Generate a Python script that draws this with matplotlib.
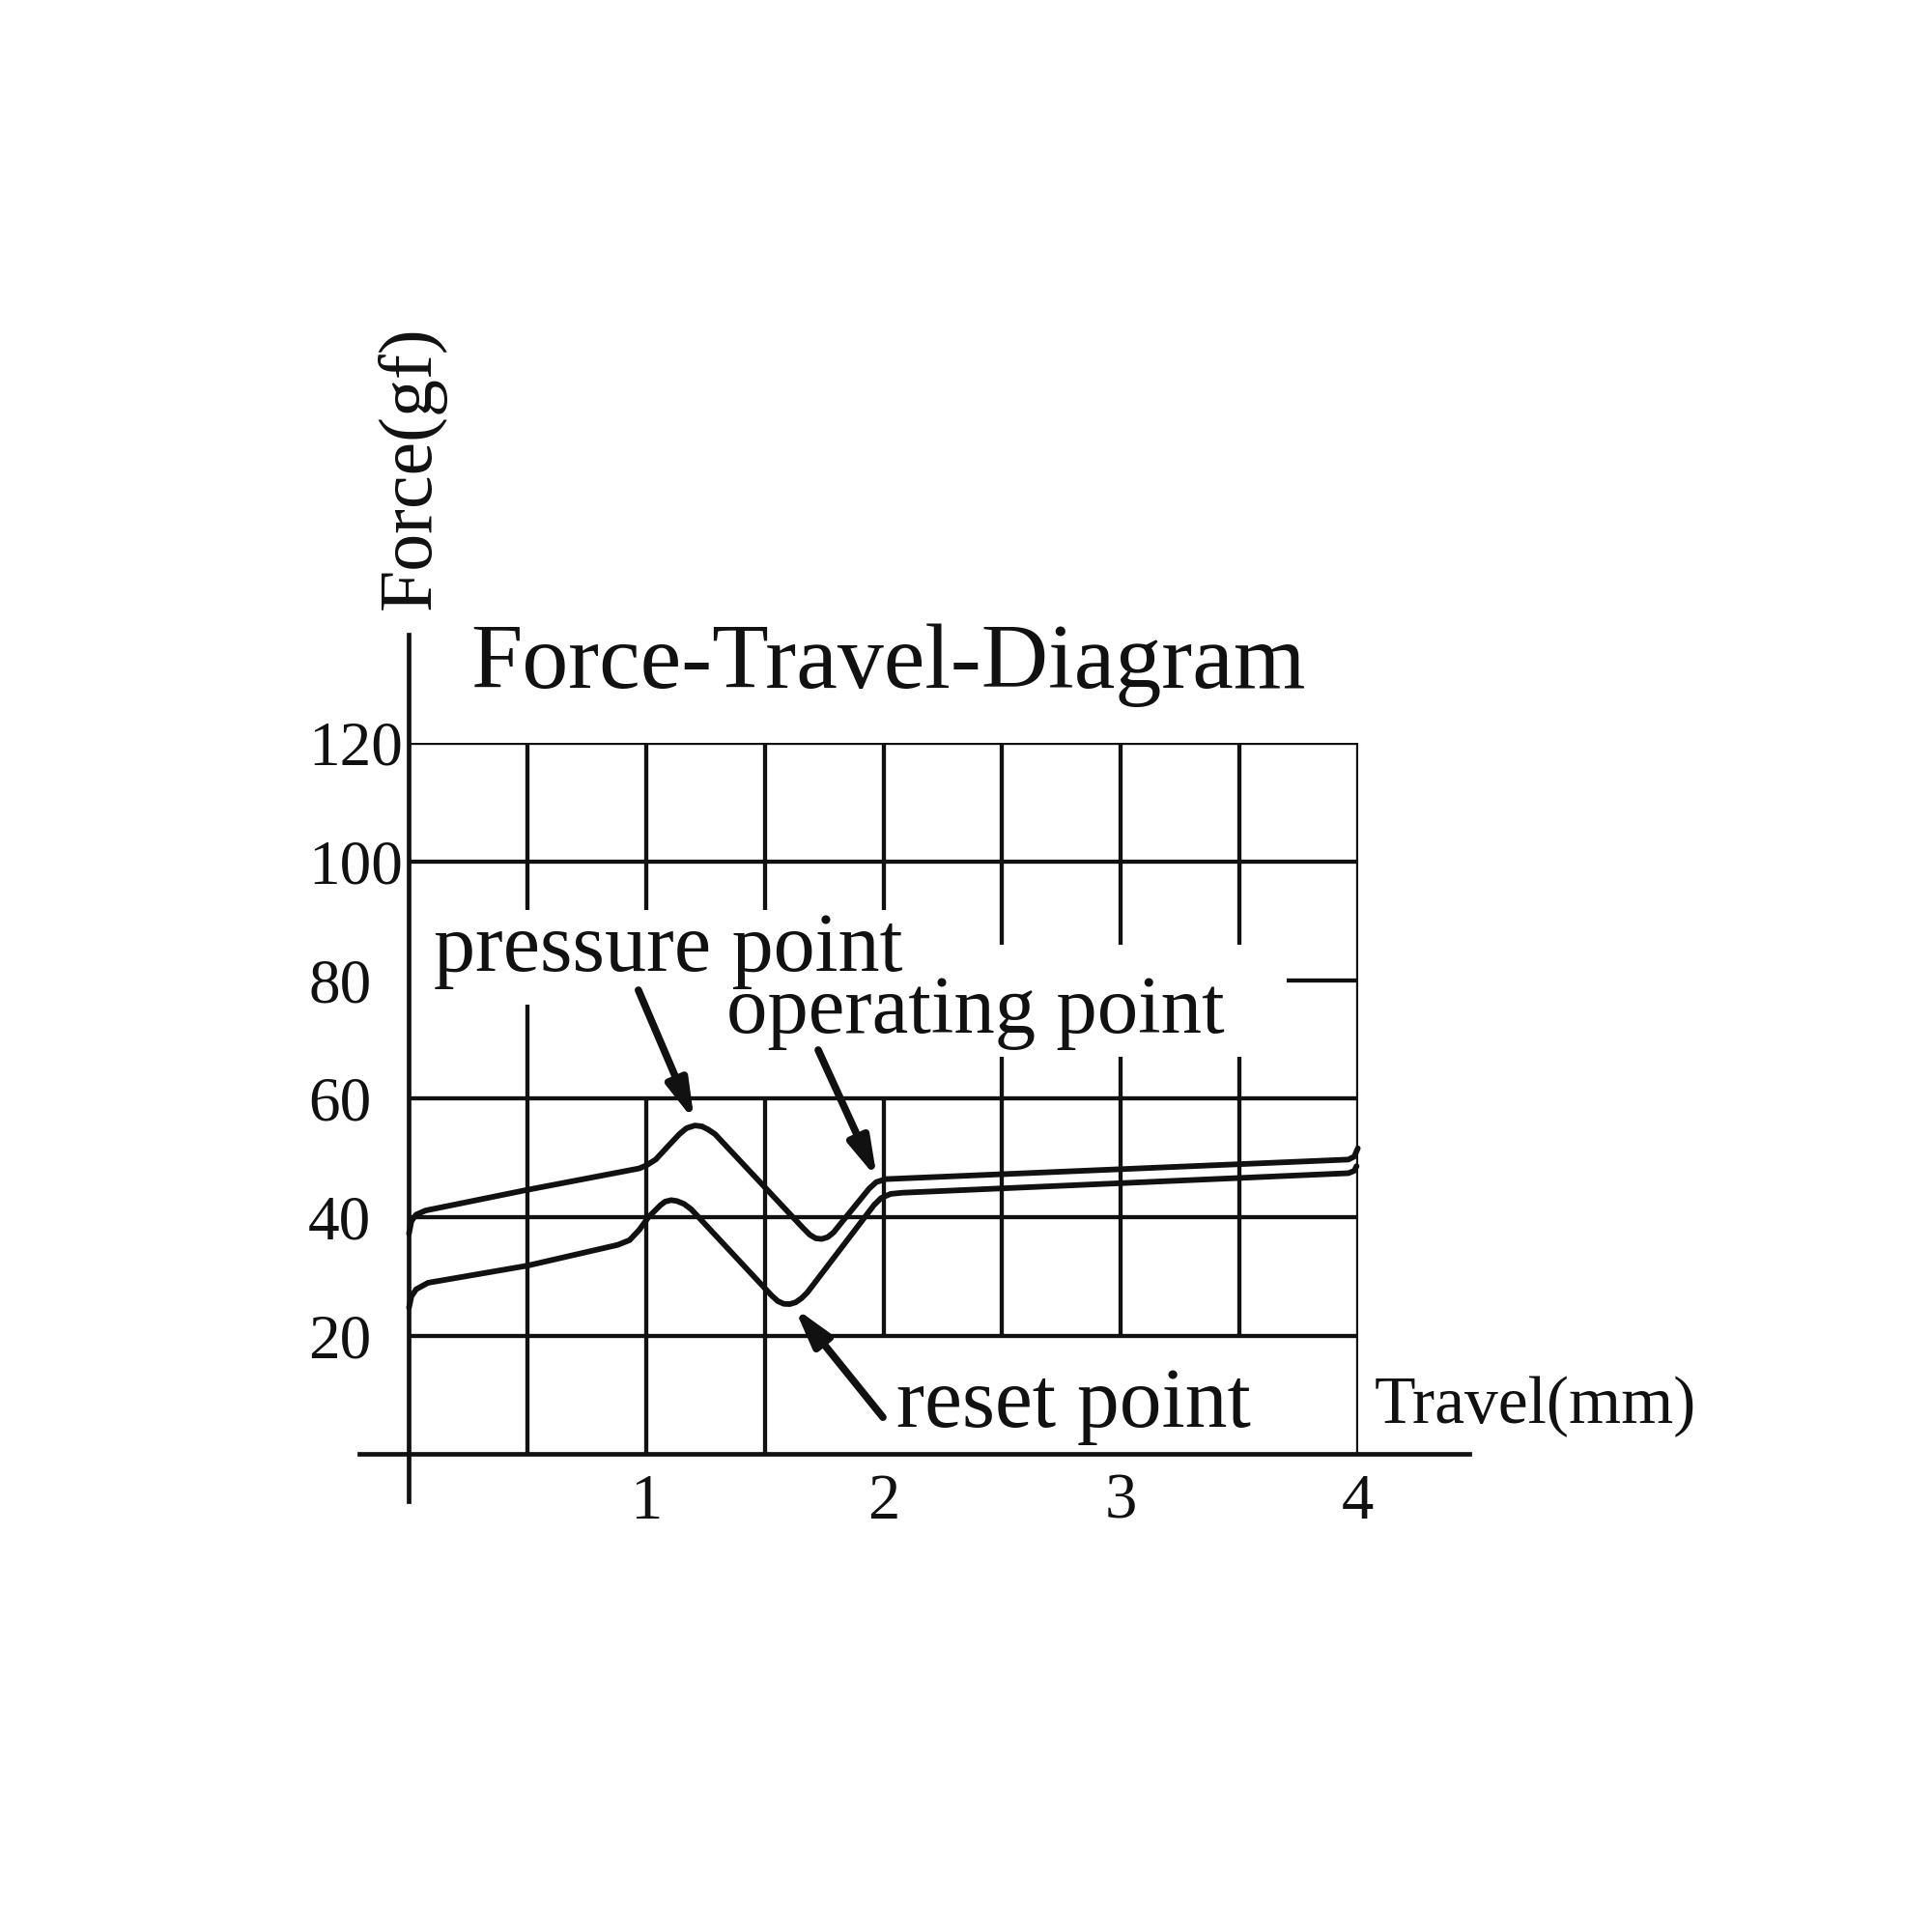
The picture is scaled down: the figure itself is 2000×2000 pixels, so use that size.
import matplotlib
matplotlib.use("Agg")
import matplotlib.pyplot as plt
from matplotlib.patches import Rectangle

# curva de presion (ida)
recorrido_ida = [0.0, 0.01, 0.03, 0.07, 0.5, 0.97, 1.00, 1.04, 1.10, 1.14, 1.17, 1.205, 1.235,
                 1.26, 1.29, 1.66, 1.69, 1.715, 1.74, 1.765, 1.79, 1.82, 1.94, 1.97, 2.01,
                 3.96, 3.985, 4.0]
fuerza_ida = [37.2, 39.3, 40.4, 41.1, 44.6, 48.2, 48.7, 49.7, 52.3, 54.0, 55.0, 55.45, 55.3,
              54.8, 54.0, 38.2, 37.0, 36.4, 36.3, 36.6, 37.4, 38.9, 44.8, 45.9, 46.4,
              49.7, 50.2, 51.6]

# curva de retorno
recorrido_vuelta = [0.0, 0.01, 0.03, 0.08, 0.5, 0.88, 0.93, 0.97, 1.01, 1.06, 1.08, 1.105,
                    1.13, 1.16, 1.19, 1.53, 1.555, 1.58, 1.605, 1.63, 1.655, 1.68, 1.96,
                    1.99, 2.03, 2.08, 3.96, 3.985, 3.995]
fuerza_vuelta = [24.7, 26.6, 27.8, 28.9, 31.8, 35.3, 36.1, 37.8, 40.0, 42.0, 42.6, 42.85,
                 42.7, 42.2, 41.3, 26.7, 25.8, 25.35, 25.3, 25.6, 26.3, 27.3, 42.0,
                 43.2, 43.9, 44.1, 47.4, 47.8, 48.6]

ticks_x = [1, 2, 3, 4]
ticks_y = [20, 40, 60, 80, 100, 120]
lineas_verticales = [0.5, 1.0, 1.5, 2.0, 2.5, 3.0, 3.5, 4.0]
lineas_horizontales = [20, 40, 60, 100, 120]

# (texto, punto señalado, inicio de la flecha, posicion del texto, tamaño)
etiquetas = [
    ("pressure point", (1.203, 56.2), (0.967, 78.3), (0.104, 81.5), 62),
    ("operating point", (1.973, 46.5), (1.725, 68.2), (1.340, 71.1), 61),
    ("reset point", (1.624, 24.75), (1.998, 6.2), (2.057, 4.6), 63),
]

fuente = "Liberation Serif"
negro = "#111111"

fig = plt.figure(figsize=(20, 20), dpi=100)
ax = fig.add_axes([0.2117, 0.2474, 0.4911, 0.368])
ax.set_xlim(0, 4)
ax.set_ylim(0, 120)
for s in ax.spines.values():
    s.set_visible(False)

# cuadricula
for x in lineas_verticales:
    ax.axvline(x, color=negro, lw=3.1, zorder=1)
ax.axhline(80, color=negro, lw=3.1, zorder=1)
for y in lineas_horizontales:
    ax.axhline(y, color=negro, lw=3.1, zorder=3)

# zonas blancas detras de los textos
for (x0, y0, w, h) in [(0.0, 75.9, 0.75, 15.9), (0.75, 60.0, 1.5, 31.8),
                       (2.25, 67.1, 1.45, 18.8), (1.75, 0.0, 2.15, 20.0)]:
    ax.add_patch(Rectangle((x0, y0), w, h, facecolor="white", edgecolor="none", zorder=2))

# ejes
ax.plot([-0.21, 4.47], [0, 0], color=negro, lw=3.4, clip_on=False, zorder=3)
ax.plot([0, 0], [-7.9, 138.3], color=negro, lw=3.4, clip_on=False, zorder=3)

ax.plot(recorrido_ida, fuerza_ida, color=negro, lw=4.2, solid_joinstyle="round",
        solid_capstyle="round", clip_on=False, zorder=4)
ax.plot(recorrido_vuelta, fuerza_vuelta, color=negro, lw=4.2, solid_joinstyle="round",
        solid_capstyle="round", clip_on=False, zorder=4)

ax.set_xticks(ticks_x)
ax.set_xticklabels([str(t) for t in ticks_x], fontsize=48, family=fuente)
ax.set_yticks(ticks_y)
ax.set_yticklabels([str(t) for t in ticks_y], fontsize=47, family=fuente)
ax.tick_params(axis="both", length=0, colors=negro)
ax.tick_params(axis="x", pad=14)
ax.tick_params(axis="y", pad=75)
for lbl in ax.get_yticklabels():
    lbl.set_horizontalalignment("left")

for texto, punta, cola, pos, tam in etiquetas:
    ax.text(pos[0], pos[1], texto, fontsize=tam, family=fuente, color=negro,
            va="baseline", ha="left", zorder=5)
    ax.annotate("", xy=punta, xytext=cola, zorder=5,
                arrowprops=dict(arrowstyle="-|>,head_length=1.2,head_width=0.33",
                                mutation_scale=20, lw=5.5, color=negro,
                                shrinkA=0, shrinkB=0))

ax.text(0.26, 129.4, "Force-Travel-Diagram", fontsize=69, family=fuente, color=negro,
        va="baseline", ha="left", clip_on=False)
ax.text(0.01, 142.5, "Force(gf)", fontsize=56, family=fuente, color=negro, rotation=90,
        ha="center", va="bottom", clip_on=False)
ax.text(4.068, 5.2, "Travel(mm)", fontsize=50, family=fuente, color=negro,
        va="baseline", ha="left", clip_on=False)

fig.savefig("out.png", dpi=100, facecolor="white")
